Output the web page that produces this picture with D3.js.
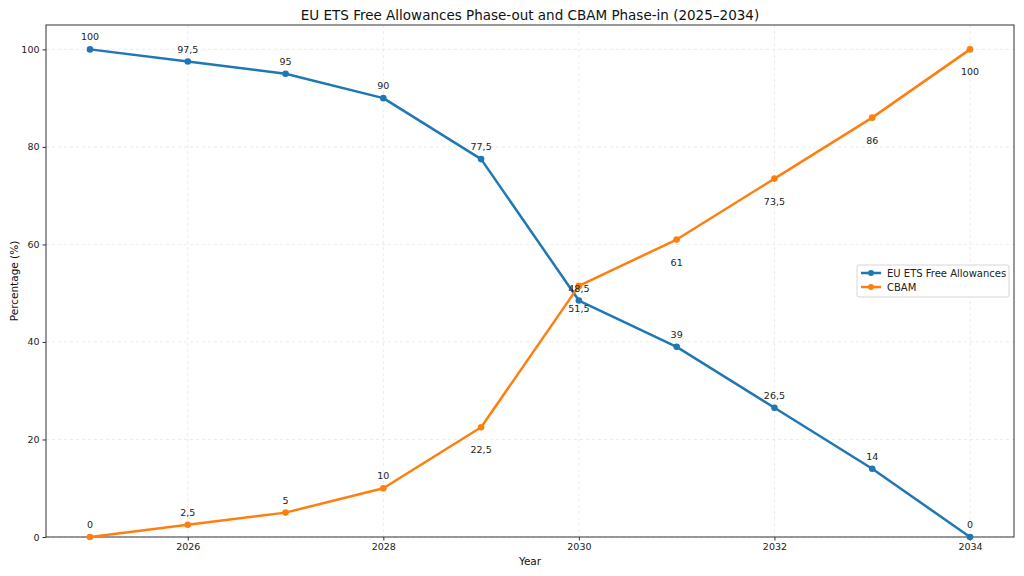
<!DOCTYPE html>
<html>
<head>
<meta charset="utf-8">
<script src="https://cdn.jsdelivr.net/npm/d3@7"></script>
<style>
  body { margin: 0; background: #fff; }
  svg { display: block; font-family: "DejaVu Sans", sans-serif; }
</style>
</head>
<body>
<svg id="chart" width="1024" height="576"></svg>
<script>
// Data
const years = [2025, 2026, 2027, 2028, 2029, 2030, 2031, 2032, 2033, 2034];
const etsValues = [100, 97.5, 95, 90, 77.5, 48.5, 39, 26.5, 14, 0];
const cbamValues = [0, 2.5, 5, 10, 22.5, 51.5, 61, 73.5, 86, 100];
const xTicks = [2026, 2028, 2030, 2032, 2034];
const yTicks = [0, 20, 40, 60, 80, 100];
const seriesNames = ['EU ETS Free Allowances', 'CBAM'];

const colors = ['#1f77b4', '#ff7f0e'];
const margin = { top: 25, right: 10, bottom: 39, left: 46 };
const width = 1024, height = 576;

const svg = d3.select('#chart');

const x = d3.scaleLinear()
    .domain([2024.55, 2034.45])
    .range([margin.left, width - margin.right]);
const y = d3.scaleLinear()
    .domain([0, 105])
    .range([height - margin.bottom, margin.top]);

const fmt = d3.formatLocale({ decimal: ',', thousands: '.', grouping: [3], currency: ['', ''] }).format('~g');

// Grid
const grid = svg.append('g');
grid.selectAll('line.gx').data(xTicks).enter().append('line')
    .attr('x1', d => x(d)).attr('x2', d => x(d))
    .attr('y1', margin.top).attr('y2', height - margin.bottom)
    .attr('stroke', '#e6e6e6').attr('stroke-dasharray', '3,3').attr('stroke-width', 0.8);
grid.selectAll('line.gy').data(yTicks).enter().append('line')
    .attr('x1', margin.left).attr('x2', width - margin.right)
    .attr('y1', d => y(d)).attr('y2', d => y(d))
    .attr('stroke', '#e6e6e6').attr('stroke-dasharray', '3,3').attr('stroke-width', 0.8);

// Axes
const xAxis = svg.append('g')
    .attr('transform', `translate(0,${height - margin.bottom})`)
    .call(d3.axisBottom(x).tickValues(xTicks).tickFormat(d3.format('d')).tickSize(3.5).tickPadding(3));
const yAxis = svg.append('g')
    .attr('transform', `translate(${margin.left},0)`)
    .call(d3.axisLeft(y).tickValues(yTicks).tickSize(3.5).tickPadding(3));
[xAxis, yAxis].forEach(a => {
    a.select('.domain').remove();
    a.selectAll('text').attr('font-size', 9.5).attr('fill', '#222').attr('font-family', '"DejaVu Sans", sans-serif');
    a.selectAll('line').attr('stroke', '#333');
});

// Frame
svg.append('rect')
    .attr('x', margin.left).attr('y', margin.top)
    .attr('width', width - margin.left - margin.right)
    .attr('height', height - margin.top - margin.bottom)
    .attr('fill', 'none').attr('stroke', '#333').attr('stroke-width', 1);

// Lines
const line = d3.line().x((d, i) => x(years[i])).y(d => y(d));
const allSeries = [etsValues, cbamValues];

allSeries.forEach((vals, s) => {
    svg.append('path').datum(vals)
        .attr('fill', 'none').attr('stroke', colors[s])
        .attr('stroke-width', 2.5).attr('stroke-linejoin', 'round')
        .attr('d', line);
    svg.selectAll(`circle.s${s}`).data(vals).enter().append('circle')
        .attr('cx', (d, i) => x(years[i])).attr('cy', d => y(d))
        .attr('r', 3.3).attr('fill', colors[s]);
});

// Value labels: ETS above; CBAM above for the first four years, below after
const labels = svg.append('g').attr('font-size', 9.5).attr('fill', '#222').attr('text-anchor', 'middle');
etsValues.forEach((v, i) => {
    labels.append('text').attr('x', x(years[i])).attr('y', y(v) - 9).text(fmt(v));
});
cbamValues.forEach((v, i) => {
    const below = i >= 4;
    labels.append('text').attr('x', x(years[i])).attr('y', below ? y(v) + 26 : y(v) - 9).text(fmt(v));
});

// Title and axis labels
svg.append('text').attr('x', (margin.left + width - margin.right) / 2).attr('y', 20)
    .attr('text-anchor', 'middle').attr('font-size', 13.5).attr('fill', '#111')
    .text('EU ETS Free Allowances Phase-out and CBAM Phase-in (2025–2034)');
svg.append('text').attr('x', (margin.left + width - margin.right) / 2).attr('y', 565)
    .attr('text-anchor', 'middle').attr('font-size', 10.5).attr('fill', '#111').text('Year');
svg.append('text').attr('transform', `translate(18,${(margin.top + height - margin.bottom) / 2}) rotate(-90)`)
    .attr('text-anchor', 'middle').attr('font-size', 10.5).attr('fill', '#111').text('Percentage (%)');

// Legend
const lg = svg.append('g').attr('transform', 'translate(857,265)');
lg.append('rect').attr('width', 152).attr('height', 32).attr('rx', 2)
    .attr('fill', '#fff').attr('fill-opacity', 0.8).attr('stroke', '#ccc').attr('stroke-width', 0.8);
seriesNames.forEach((name, i) => {
    const yy = 8 + i * 14;
    lg.append('line').attr('x1', 4).attr('x2', 24).attr('y1', yy).attr('y2', yy)
        .attr('stroke', colors[i]).attr('stroke-width', 2.5);
    lg.append('circle').attr('cx', 14).attr('cy', yy).attr('r', 3).attr('fill', colors[i]);
    lg.append('text').attr('x', 30).attr('y', yy + 3.5).attr('font-size', 10).attr('fill', '#222').text(name);
});
</script>
</body>
</html>
